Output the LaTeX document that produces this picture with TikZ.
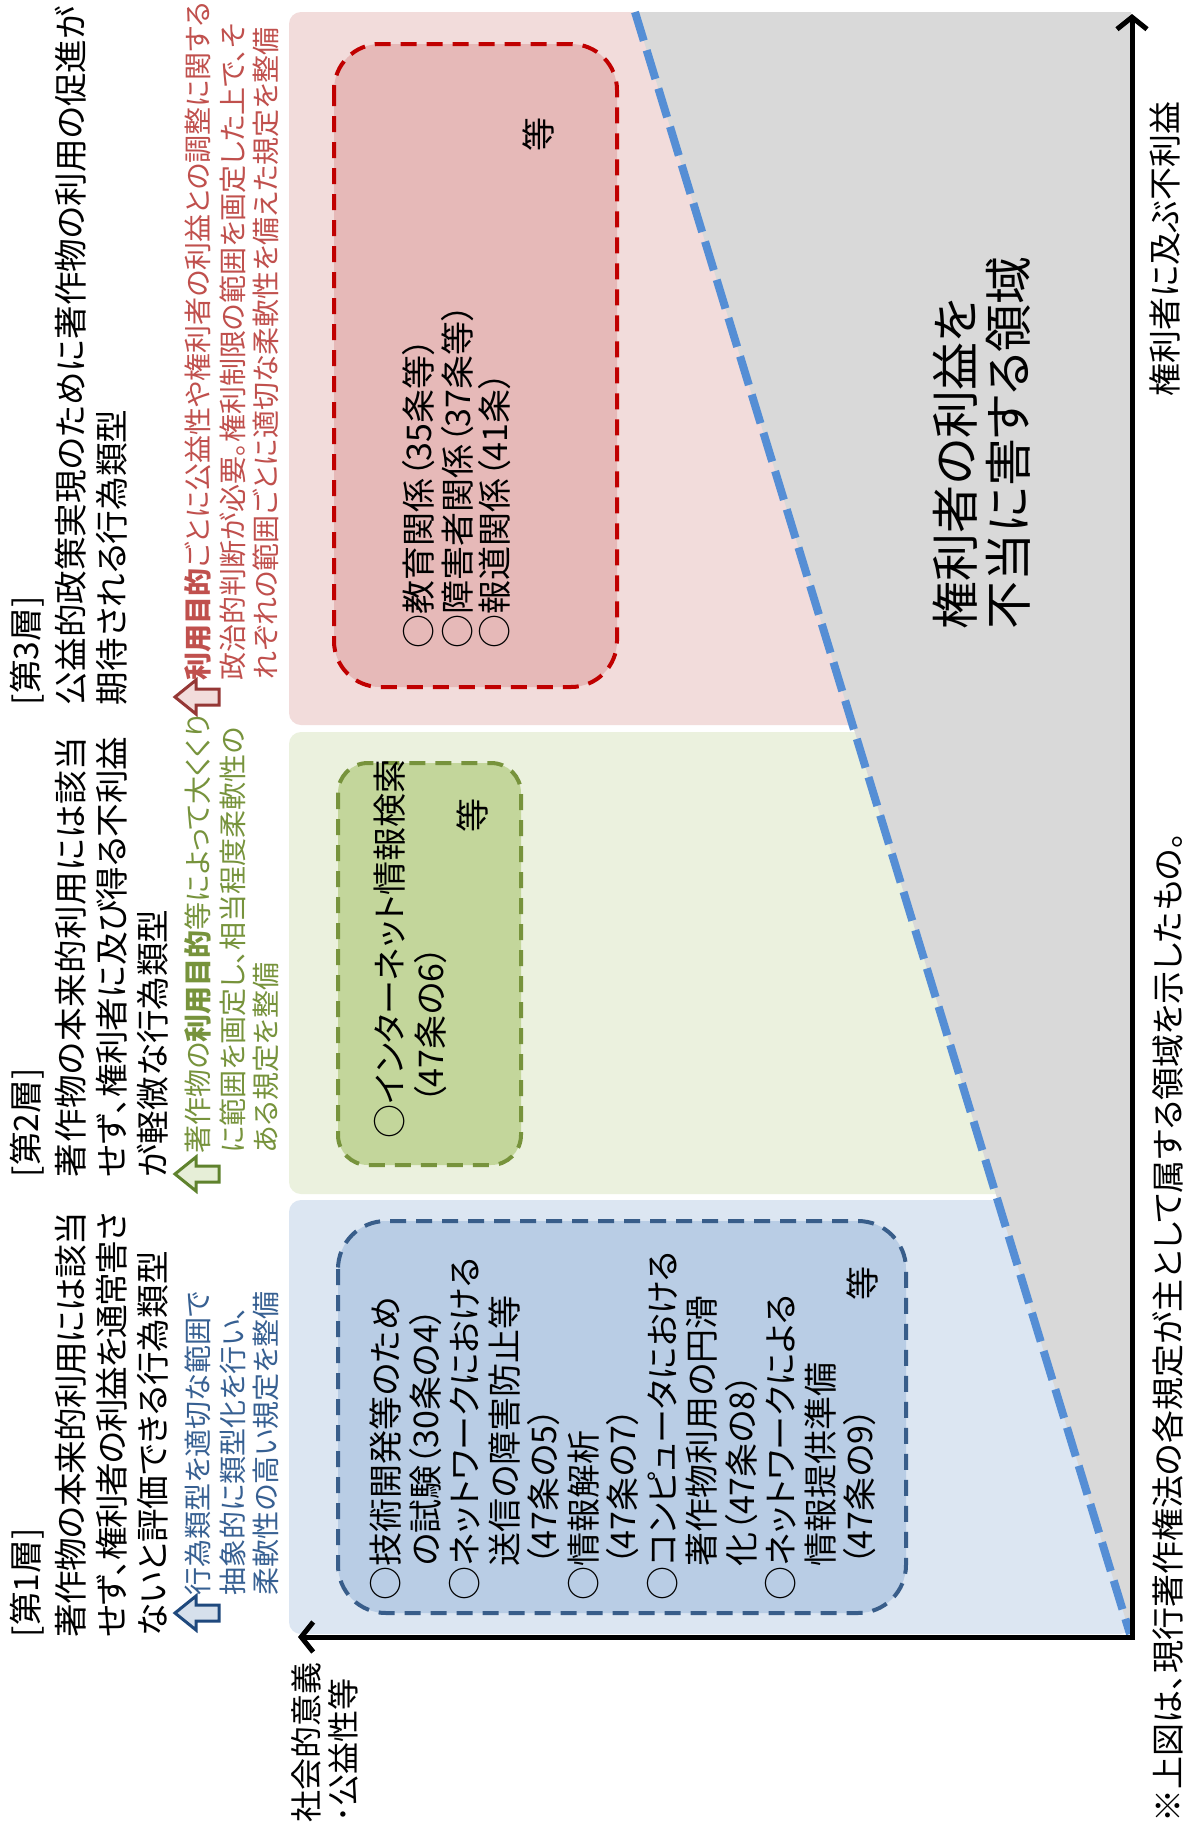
\documentclass[tikz,border=0pt]{standalone}
\usepackage{fontspec}
\setmainfont{Noto Sans CJK JP}[RawFeature=+palt]
\usetikzlibrary{arrows.meta}
\definecolor{pinkbg}{RGB}{242,220,219}
\definecolor{greenbg}{RGB}{235,241,222}
\definecolor{bluebg}{RGB}{220,230,242}
\definecolor{greybg}{RGB}{217,217,217}
\definecolor{diagc}{RGB}{85,142,213}
\definecolor{bboxfill}{RGB}{185,205,229}
\definecolor{bboxline}{RGB}{56,93,138}
\definecolor{gboxfill}{RGB}{195,214,155}
\definecolor{gboxline}{RGB}{119,147,60}
\definecolor{rboxfill}{RGB}{230,185,184}
\definecolor{rboxline}{RGB}{192,0,0}
\definecolor{tblue}{RGB}{55,96,146}
\definecolor{tgreen}{RGB}{119,147,60}
\definecolor{tred}{RGB}{192,80,77}
\definecolor{iblueline}{RGB}{31,73,125}
\definecolor{ibluefill}{RGB}{214,224,236}
\definecolor{igreenline}{RGB}{95,130,45}
\definecolor{igreenfill}{RGB}{230,238,215}
\definecolor{iredline}{RGB}{149,55,53}
\definecolor{iredfill}{RGB}{242,220,219}
\ExplSyntaxOn
\NewDocumentCommand\spreadline{mm}
  {
    \hbox_to_wd:nn {#1}
      {
        \bool_set_true:N \l_tmpa_bool
        \tl_map_inline:nn {#2}
          {
            \bool_if:NTF \l_tmpa_bool
              { \bool_set_false:N \l_tmpa_bool }
              { \skip_horizontal:n { 0pt plus 1fil minus 1pt } }
            ##1
          }
      }
  }
\ExplSyntaxOff
\tikzset{upicon/.pic={\path[pic actions] (-22,0) -- (-1,-17) -- (-1,-8) -- (22,-8) -- (22,8) -- (-1,8) -- (-1,17) -- cycle;}}
\begin{document}
\begin{tikzpicture}[x=0.5pt,y=-0.5pt,
  vtext/.style={rotate=90,anchor=west,inner sep=0pt,outer sep=0pt},
  headtxt/.style={vtext,font=\fontsize{16.8}{20}\selectfont},
  desctxt/.style={vtext,font=\fontsize{14}{17}\selectfont},
  boxt/.style={vtext,font=\fontsize{17}{20}\selectfont},
  bigt/.style={vtext,font=\fontsize{24}{28}\selectfont},
  axlabel/.style={vtext,font=\fontsize{16.5}{20}\selectfont},
  dbox/.style={line width=2pt,dash pattern=on 8pt off 5pt,rounded corners=#1},
  dbox/.default=22pt,
  diagline/.style={draw=diagc,line width=4pt,dash pattern=on 15pt off 5pt},
  axisline/.style={line width=2.5pt,{Straight Barb[length=6pt,width=15pt]}-{Straight Barb[length=6pt,width=15pt]}}
]
\useasboundingbox (0,0) rectangle (1187,1827);
\fill[white] (0,0) rectangle (1187,1827);
% regions
\fill[pinkbg,rounded corners=6pt] (289,12) rectangle (1132,725);
\fill[greenbg,rounded corners=6pt] (289,732) rectangle (1132,1194);
\fill[bluebg,rounded corners=6pt] (289,1200) rectangle (1132,1634);
\coordinate (dtop) at (635,12);
\coordinate (gtr) at (1131,12);
\coordinate (O) at (1132,1637);
\fill[greybg] (dtop) -- (gtr) -- (1131,1637) -- cycle;
\draw[diagline] (dtop) -- (1130,1634);
% axes
\coordinate (ytip) at (1132,14);
\coordinate (xtip) at (298,1637);
\draw[axisline] (ytip) -- (O) -- (xtip);
% dashed boxes
\draw[draw=bboxline,fill=bboxfill,dbox=24pt] (338,1221) rectangle (906,1613);
\draw[draw=gboxline,fill=gboxfill,dbox=15pt] (338,763) rectangle (521,1165);
\draw[draw=rboxline,fill=rboxfill,dbox=23pt] (334,44) rectangle (617,687);
% layer 1 heading
\node[headtxt] (h1a) at (27,1637) {[第1層]};
\node[headtxt] (h1b) at (71,1637) {\spreadline{212.5pt}{著作物の本来的利用には該当}};
\node[headtxt] (h1c) at (112,1637) {\spreadline{212.5pt}{せず、権利者の利益を通常害さ}};
\node[headtxt] (h1d) at (153,1637) {ないと評価できる行為類型};
% layer 2 heading
\node[headtxt] (h2a) at (27,1177) {[第2層]};
\node[headtxt] (h2b) at (71,1177) {\spreadline{220pt}{著作物の本来的利用には該当}};
\node[headtxt] (h2c) at (112,1177) {\spreadline{220pt}{せず、権利者に及び得る不利益}};
\node[headtxt] (h2d) at (153,1177) {が軽微な行為類型};
% layer 3 heading
\node[headtxt] (h3a) at (27,705) {[第3層]};
\node[headtxt] (h3b) at (71,705) {公益的政策実現のために著作物の利用の促進が};
\node[headtxt] (h3c) at (112,705) {期待される行為類型};
% icons
\pic[draw=iblueline,fill=ibluefill,line width=1.5pt] at (197,1613) {upicon};
\pic[draw=igreenline,fill=igreenfill,line width=1.5pt] at (197,1174) {upicon};
\pic[draw=iredline,fill=iredfill,line width=1.5pt] at (197,697) {upicon};
% descriptions
\node[desctxt,text=tblue] (d1a) at (198,1595) {行為類型を適切な範囲で};
\node[desctxt,text=tblue] (d1b) at (233,1595) {抽象的に類型化を行い、};
\node[desctxt,text=tblue] (d1c) at (266,1595) {柔軟性の高い規定を整備};
\node[desctxt,text=tgreen] (d2a) at (198,1153) {著作物の\textbf{利用目的}等によって大くくり};
\node[desctxt,text=tgreen] (d2b) at (233,1153) {に範囲を画定し、相当程度柔軟性の};
\node[desctxt,text=tgreen] (d2c) at (266,1153) {ある規定を整備};
\node[desctxt,text=tred] (d3a) at (198,680) {\textbf{利用目的}ごとに公益性や権利者の利益との調整に関する};
\node[desctxt,text=tred] (d3b) at (233,680) {政治的判断が必要。権利制限の範囲を画定した上で、そ};
\node[desctxt,text=tred] (d3c) at (266,680) {れぞれの範囲ごとに適切な柔軟性を備えた規定を整備};
% blue box text
\node[boxt] (b1) at (386,1600) {○技術開発等のため};
\node[boxt] (b2) at (425.5,1600) {\phantom{○}の試験（30条の4）};
\node[boxt] (b3) at (465,1600) {○ネットワークにおける};
\node[boxt] (b4) at (504.5,1600) {\phantom{○}送信の障害防止等};
\node[boxt] (b5) at (544,1600) {\phantom{○}（47条の5）};
\node[boxt] (b6) at (583.5,1600) {○情報解析};
\node[boxt] (b7) at (623,1600) {\phantom{○}（47条の7）};
\node[boxt] (b8) at (662.5,1600) {○コンピュータにおける};
\node[boxt] (b9) at (702,1600) {\phantom{○}著作物利用の円滑};
\node[boxt] (b10) at (741.5,1600) {\phantom{○}化（47条の8）};
\node[boxt] (b11) at (781,1600) {○ネットワークによる};
\node[boxt] (b12) at (820.5,1600) {\phantom{○}情報提供準備};
\node[boxt] (b13) at (860,1600) {\phantom{○}（47条の9）};
\node[boxt,anchor=center] (b14) at (862,1283) {等};
% green box text
\node[boxt] (g1) at (390,1138) {○インターネット情報検索};
\node[boxt] (g2) at (431,1138) {\phantom{○}（47条の6）};
\node[boxt,anchor=center] (g3) at (472,815) {等};
% red box text
\node[boxt] (r1) at (419,648) {○教育関係（35条等）};
\node[boxt] (r2) at (458,648) {○障害者関係（37条等）};
\node[boxt] (r3) at (495,648) {○報道関係（41条）};
\node[boxt,anchor=center] (r4) at (538,134) {等};
% big text
\node[bigt] (big1) at (955,629) {権利者の利益を};
\node[bigt] (big2) at (1008,629) {不当に害する領域};
% axis labels and note
\node[axlabel] (ylab) at (1165,396) {権利者に及ぶ不利益};
\node[axlabel] (note) at (1168,1822) {※上図は、現行著作権法の各規定が主として属する領域を示したもの。};
\node[vtext,font=\fontsize{16}{19}\selectfont] (xlab1) at (306,1822) {社会的意義};
\node[vtext,font=\fontsize{16}{19}\selectfont] (xlab2) at (343,1822) {･公益性等};
\end{tikzpicture}
\end{document}
